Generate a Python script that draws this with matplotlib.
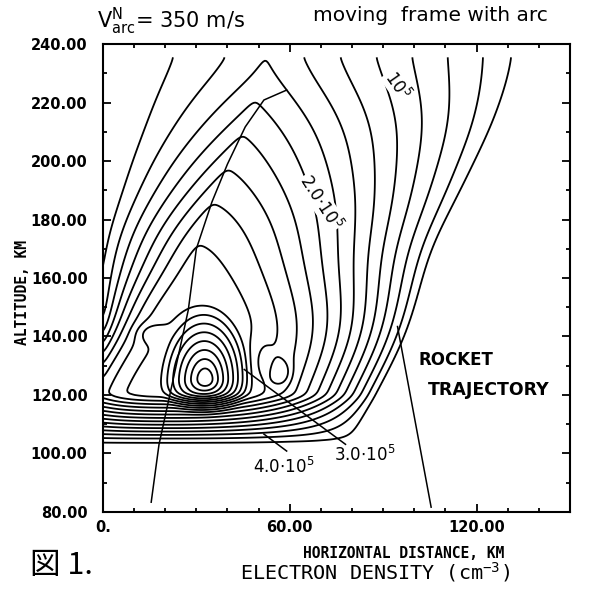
import numpy as np
import matplotlib.pyplot as plt
from matplotlib.ticker import MultipleLocator, FixedLocator, FixedFormatter

plt.rcParams['mathtext.default'] = 'regular'

# contour levels, units of 1e5 cm^-3
levels = [0.05, 0.25, 0.5, 0.75, 1.0, 1.25, 1.5, 1.75, 2.0, 2.25, 2.5,
          2.75, 3.0, 3.25, 3.5, 3.75, 4.0, 4.25, 4.5, 4.75, 5.0, 5.25]

# plume: axis position, amplitude and flank shapes vs altitude (km)
axis_y = [95, 110, 149, 170, 186, 199, 212, 232, 240]
axis_x = [22, 22.5, 27, 29, 35, 40, 46, 52, 54]
amp_y = [95, 120, 148, 174, 232, 240]
amp_v = [3.45, 3.45, 3.25, 3.0, 1.76, 1.6]
right_y = [95, 110, 120, 140, 160, 192, 235]
right_w = [56, 59.5, 64, 71.5, 75, 79.5, 81.5]
right_p = [2.0, 2.0, 2.0, 2.2, 1.8, 1.4, 1.0]
left_y = [95, 120, 140, 160, 190, 235]
left_w = [42, 42, 27.5, 30, 34, 45]
left_q = [3.0, 3.0, 3.0, 1.3, 1.0, 0.8]
left_bg = 1.05

# main density maximum (cone shaped): x, y, half widths, amplitude
peak_x, peak_y = 33.0, 125.0
peak_sx, peak_up, peak_dn = 15.0, 26.0, 12.0
peak_a = 2.0

# smaller bumps: x, y, width, height, amplitude
bump_x = [57.5, 51.0, 15.0]
bump_y = [127.5, 132.0, 141.0]
bump_sx = [2.6, 3.5, 4.0]
bump_sy = [4.0, 8.0, 3.0]
bump_a = [0.45, -0.25, 0.3]
floor_y, floor_depth = 104.0, 16.0

# drawn lines
arc_x = [15.5, 18, 27.4, 30, 35, 40, 45.7, 51.7, 59]
arc_y = [83.3, 103, 149, 170, 186, 199, 211.7, 220.9, 224.3]
rocket_x = [94.6, 105.4]
rocket_y = [143.4, 81.6]


def gauss_kernel(sig):
    n = int(3 * sig)
    k = np.exp(-0.5 * (np.arange(-n, n + 1) / sig) ** 2)
    return k / k.sum(), n


def smooth1d(v, sig):
    k, n = gauss_kernel(sig)
    return np.convolve(np.pad(v, n, mode='edge'), k, mode='valid')


def smooth2d(z, sig):
    z = np.apply_along_axis(smooth1d, 0, z, sig)
    return np.apply_along_axis(smooth1d, 1, z, sig)


x = np.linspace(0, 150, 301)
y = np.linspace(95, 235.5, 282)
X, Y = np.meshgrid(x, y)


def prof(ky, kv):
    # altitude profile through the knots, smoothed over ~8 km
    return smooth1d(np.interp(y, ky, kv), 16)[:, None]


xc = prof(axis_y, axis_x)
A = prof(amp_y, amp_v)
s = X - xc
hR = 1 - np.clip(s / prof(right_y, right_w), 0, 1) ** prof(right_y, right_p)
hL = 1 - np.clip(-s / prof(left_y, left_w), 0, 1) ** prof(left_y, left_q)
Z = np.where(s >= 0, A * hR, left_bg + (A - left_bg) * hL)

r = np.hypot((X - peak_x) / peak_sx,
             (Y - peak_y) / np.where(Y > peak_y, peak_up, peak_dn))
Z += peak_a * np.clip(1 - r, 0, 1)
for bx, by, sx, sy, a in zip(bump_x, bump_y, bump_sx, bump_sy, bump_a):
    Z += a * np.exp(-((X - bx) / sx) ** 2 - ((Y - by) / sy) ** 2)
Z *= np.clip((Y - floor_y) / floor_depth, 0, 1)
Z = smooth2d(Z, 2.0)

fig = plt.figure(figsize=(5.95, 5.89), dpi=100)
ax = fig.add_axes([0.173, 0.131, 0.785, 0.794])

ax.contour(X, Y, Z, levels=levels, colors='black', linewidths=1.3)
ax.plot(arc_x, arc_y, color='black', lw=1.1)
ax.plot(rocket_x, rocket_y, color='black', lw=1.1)

# contour labels
lab = dict(color='black', fontsize=12, ha='center', va='center')
ax.text(70, 186, r'$2.0{\cdot}10^5$', rotation=-57,
        bbox=dict(fc='white', ec='none', pad=0.5), **lab)
ax.text(94.5, 226, r'$10^5$', rotation=-55,
        bbox=dict(fc='white', ec='none', pad=0.5), **lab)
ax.text(58, 95.5, r'$4.0{\cdot}10^5$', **lab)
ax.text(84, 99.5, r'$3.0{\cdot}10^5$', **lab)
ax.plot([59, 51.7], [100.8, 106.6], color='black', lw=1.1)
ax.plot([77.9, 45.4], [103.1, 128.7], color='black', lw=1.1)

ax.text(101.5, 132, 'ROCKET', fontsize=12, fontweight='bold', ha='left', va='center')
ax.text(104.5, 121.6, 'TRAJECTORY', fontsize=12.5, fontweight='bold', ha='left', va='center')

ax.set_xlim(0, 150)
ax.set_ylim(80, 240)
ax.xaxis.set_major_locator(FixedLocator([0, 60, 120]))
ax.xaxis.set_major_formatter(FixedFormatter(['0.', '60.00', '120.00']))
ax.xaxis.set_minor_locator(MultipleLocator(10))
ax.yaxis.set_major_locator(MultipleLocator(20))
ax.yaxis.set_major_formatter(plt.FuncFormatter(lambda v, p: '%.2f' % v))
ax.yaxis.set_minor_locator(MultipleLocator(10))
ax.tick_params(which='both', direction='in', top=True, right=True, width=1.3)
ax.tick_params(which='major', length=6, labelsize=10.5)
ax.tick_params(axis='y', which='major', pad=11)
ax.tick_params(axis='x', which='major', pad=6)
ax.tick_params(which='minor', length=3)
for lbl in ax.get_xticklabels() + ax.get_yticklabels():
    lbl.set_fontweight('bold')
for sp in ax.spines.values():
    sp.set_linewidth(1.5)

ax.text(-0.173, 0.47, 'ALTITUDE, KM', transform=ax.transAxes, rotation=90,
        family='DejaVu Sans Mono', fontweight='bold', fontsize=10.5,
        ha='center', va='center')
fig.text(0.678, 0.060, 'HORIZONTAL DISTANCE, KM', family='DejaVu Sans Mono',
         fontweight='bold', fontsize=10.5, ha='center', va='center')
fig.text(0.63, 0.028, r'ELECTRON DENSITY (cm$^{-3}$)', family='DejaVu Sans Mono',
         fontsize=14.5, ha='center', va='center')
fig.text(0.103, 0.040, '図 1.', family=['Noto Sans CJK JP', 'DejaVu Sans'],
         fontsize=22, ha='center', va='center')
fig.text(0.163, 0.964, r'$V_{arc}^{N}$= 350 m/s', fontsize=15, ha='left', va='center')
fig.text(0.723, 0.974, 'moving  frame with arc', fontsize=14.5, ha='center', va='center')

fig.savefig('out.png', dpi=100)
